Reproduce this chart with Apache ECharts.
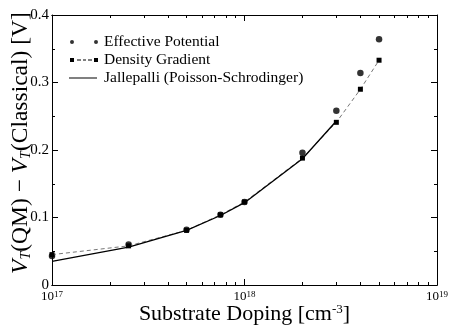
<!DOCTYPE html>
<html>
<head>
<meta charset="utf-8">
<script src="https://cdn.jsdelivr.net/npm/echarts@6/dist/echarts.min.js"></script>
<style>
  html, body { margin: 0; padding: 0; background: #fff; }
  #chart { width: 450px; height: 330px; }
</style>
</head>
<body>
<div id="chart"></div>
<script>
// Doping levels [cm^-3]
var doping = [1e17, 2.5e17, 5e17, 7.5e17, 1e18, 2e18, 3e18, 4e18, 5e18];
// V_T(QM) - V_T(Classical) [V]
var effectivePotential = [0.043, 0.060, 0.082, 0.104, 0.123, 0.196, 0.258, 0.314, 0.364];
var densityGradient    = [0.045, 0.058, 0.081, 0.104, 0.123, 0.188, 0.241, 0.290, 0.333];
var jallepalliX = [1e17, 2.5e17, 5e17, 7.5e17, 1e18, 2e18, 3e18];
var jallepalli  = [0.035, 0.056, 0.081, 0.103, 0.122, 0.187, 0.243];

// Tick positions on the log axis
var majorTicks = [1e17, 1e18, 1e19];
var minorTicks = [2e17, 3e17, 4e17, 5e17, 6e17, 7e17, 8e17, 9e17,
                  2e18, 3e18, 4e18, 5e18, 6e18, 7e18, 8e18, 9e18];

var font = 'Liberation Serif';

// Legend icons drawn in a 30x6 box (the zero-size moves keep the box full size)
var icons = {
  ep: 'path://M0,0L0,0M30,6L30,6M1,3a2,2 0 1,0 4,0a2,2 0 1,0 -4,0ZM25,3a2,2 0 1,0 4,0a2,2 0 1,0 -4,0Z',
  dg: 'path://M0,0L0,0M30,6L30,6M1,1h4v4h-4ZM25,1h4v4h-4ZM8,2.6h4v0.8h-4ZM14,2.6h3v0.8h-3ZM19,2.6h4v0.8h-4Z',
  jp: 'path://M0,0L0,0M30,6L30,6M0,2.5h28v1h-28Z'
};

function pairs(xs, ys) {
  return xs.map(function (x, i) { return [x, ys[i]]; });
}

// One log x axis; the copies only add ticks
function logAxis(pos, ticks, len, labels) {
  return {
    type: 'log', logBase: 10, min: 1e17, max: 1e19, position: pos,
    axisLine: { show: true, lineStyle: { color: '#000', width: 1 } },
    axisTick: { show: true, inside: true, length: len, customValues: ticks, lineStyle: { color: '#000' } },
    axisLabel: labels ? {
      show: true, customValues: majorTicks, color: '#000', margin: 5,
      formatter: function (v) { return '{b|10}{s|' + Math.round(Math.log10(v)) + '}'; },
      rich: {
        b: { fontFamily: font, fontSize: 13, color: '#000', verticalAlign: 'bottom' },
        s: { fontFamily: font, fontSize: 9, color: '#000', verticalAlign: 'top' }
      }
    } : { show: false },
    splitLine: { show: false },
    minorTick: { show: false }
  };
}

var chart = echarts.init(document.getElementById('chart'), null, { renderer: 'canvas' });

chart.setOption({
  animation: false,
  backgroundColor: '#fff',
  grid: { left: 52, right: 13, top: 15, bottom: 45, outerBoundsMode: 'none' },
  legend: {
    orient: 'vertical', left: 64, top: 29, itemGap: 2,
    itemWidth: 30, itemHeight: 6,
    textStyle: { fontFamily: font, fontSize: 15.5, color: '#000' },
    data: [
      { name: 'Effective Potential', icon: icons.ep },
      { name: 'Density Gradient', icon: icons.dg },
      { name: 'Jallepalli (Poisson-Schrodinger)', icon: icons.jp }
    ]
  },
  xAxis: [
    Object.assign(logAxis('bottom', majorTicks, 6, true), {
      name: 'Substrate Doping [cm{sup|-3}]', nameLocation: 'middle', nameGap: 18,
      nameMoveOverlap: false,
      nameTextStyle: {
        fontFamily: font, fontSize: 22, color: '#000',
        rich: { sup: { fontFamily: font, fontSize: 13, color: '#000', verticalAlign: 'top' } }
      }
    }),
    logAxis('bottom', minorTicks, 3, false),
    logAxis('top', majorTicks, 6, false),
    logAxis('top', minorTicks, 3, false)
  ],
  yAxis: [
    {
      type: 'value', min: 0, max: 0.4, interval: 0.1, position: 'left',
      name: '{i|V}{s|T}{n|(QM) \u2212 }{i|V}{s|T}{n|(Classical) [V]}',
      nameLocation: 'middle', nameGap: 19, nameMoveOverlap: false,
      nameTextStyle: {
        fontFamily: font, fontSize: 23.5, color: '#000', padding: [0, 0, 0, 14],
        rich: {
          i: { fontFamily: font, fontSize: 23.5, fontStyle: 'italic', color: '#000' },
          s: { fontFamily: font, fontSize: 14, fontStyle: 'italic', color: '#000', verticalAlign: 'bottom' },
          n: { fontFamily: font, fontSize: 23.5, color: '#000' }
        }
      },
      axisLine: { show: true, lineStyle: { color: '#000' } },
      axisTick: { show: true, inside: true, length: 6, lineStyle: { color: '#000' } },
      minorTick: { show: true, splitNumber: 2, length: 3, lineStyle: { color: '#000' } },
      axisLabel: {
        fontFamily: font, fontSize: 15, color: '#000', margin: 3,
        formatter: function (v) { return v === 0 ? '0' : v.toFixed(1); }
      },
      splitLine: { show: false }
    },
    {
      type: 'value', min: 0, max: 0.4, interval: 0.1, position: 'right',
      axisLine: { show: true, lineStyle: { color: '#000' } },
      axisTick: { show: true, inside: true, length: 6, lineStyle: { color: '#000' } },
      minorTick: { show: true, splitNumber: 2, length: 3, lineStyle: { color: '#000' } },
      axisLabel: { show: false },
      splitLine: { show: false }
    }
  ],
  series: [
    {
      name: 'Effective Potential', type: 'scatter',
      symbol: 'circle', symbolSize: 6.5,
      itemStyle: { color: '#000' },
      data: pairs(doping, effectivePotential)
    },
    {
      name: 'Density Gradient', type: 'line',
      symbol: 'rect', symbolSize: 5, showSymbol: true,
      itemStyle: { color: '#000' },
      lineStyle: { color: '#777', width: 1, type: [4, 3] },
      data: pairs(doping, densityGradient)
    },
    {
      name: 'Jallepalli (Poisson-Schrodinger)', type: 'line',
      symbol: 'none', showSymbol: false,
      itemStyle: { color: '#000' },
      lineStyle: { color: '#000', width: 1.3 },
      data: pairs(jallepalliX, jallepalli)
    }
  ]
});
</script>
</body>
</html>
